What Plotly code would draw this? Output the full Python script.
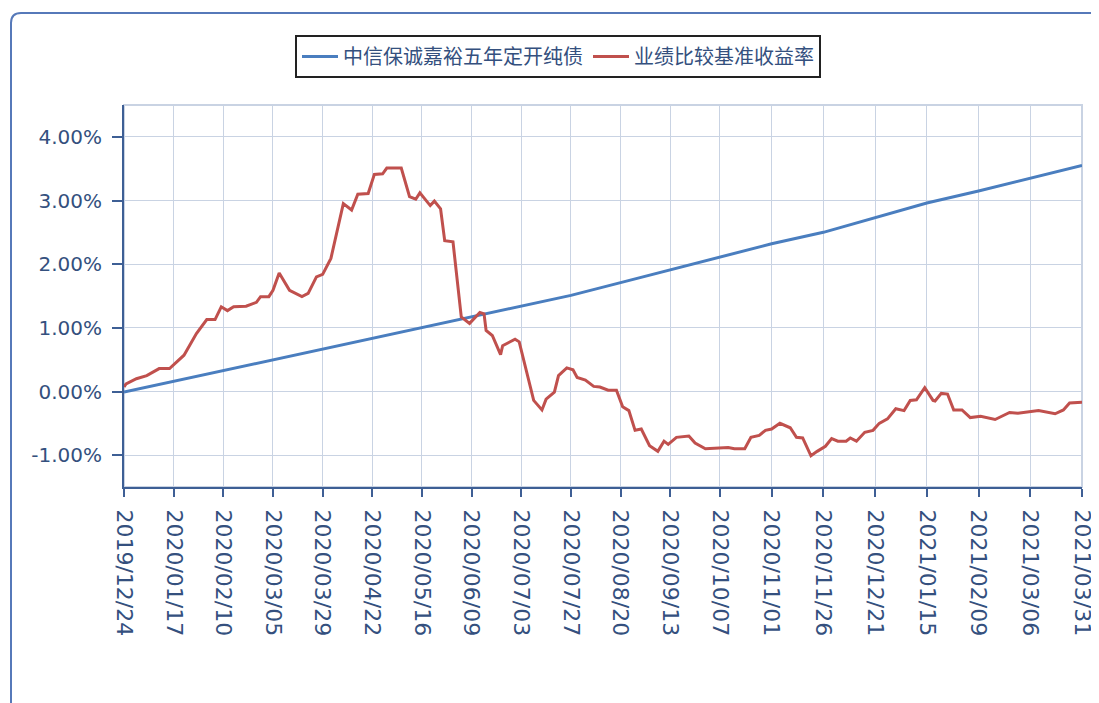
import plotly.graph_objects as go

# ---------------- data ----------------
tick_dates = ["2019-12-24", "2020-01-17", "2020-02-10", "2020-03-05", "2020-03-29",
              "2020-04-22", "2020-05-16", "2020-06-09", "2020-07-03", "2020-07-27",
              "2020-08-20", "2020-09-13", "2020-10-07", "2020-11-01", "2020-11-26",
              "2020-12-21", "2021-01-15", "2021-02-09", "2021-03-06", "2021-03-31"]

fund_name = "中信保诚嘉裕五年定开纯债"
fund_dates = tick_dates
fund_values = [-0.01, 0.16, 0.33, 0.50, 0.67, 0.84, 1.00, 1.17, 1.34, 1.51,
               1.71, 1.91, 2.11, 2.32, 2.50, 2.73, 2.96, 3.15, 3.35, 3.55]

bench_name = "业绩比较基准收益率"
bench_dates = [
    "2019-12-24", "2019-12-25", "2019-12-30", "2020-01-04", "2020-01-10", "2020-01-15",
    "2020-01-22", "2020-01-28", "2020-02-02", "2020-02-06", "2020-02-09", "2020-02-12",
    "2020-02-15", "2020-02-21", "2020-02-26", "2020-02-28", "2020-03-03", "2020-03-05",
    "2020-03-08", "2020-03-13", "2020-03-19", "2020-03-22", "2020-03-26", "2020-03-29",
    "2020-04-02", "2020-04-08", "2020-04-12", "2020-04-15", "2020-04-20", "2020-04-23",
    "2020-04-27", "2020-04-29", "2020-05-06", "2020-05-10", "2020-05-13", "2020-05-15",
    "2020-05-20", "2020-05-22", "2020-05-25", "2020-05-27", "2020-05-31", "2020-06-02",
    "2020-06-04", "2020-06-08", "2020-06-13", "2020-06-15", "2020-06-16", "2020-06-19",
    "2020-06-23", "2020-06-24", "2020-06-30", "2020-07-02", "2020-07-09", "2020-07-13",
    "2020-07-15", "2020-07-19", "2020-07-21", "2020-07-25", "2020-07-28", "2020-07-30",
    "2020-08-03", "2020-08-07", "2020-08-10", "2020-08-14", "2020-08-18", "2020-08-21",
    "2020-08-24", "2020-08-27", "2020-08-30", "2020-09-03", "2020-09-07", "2020-09-10",
    "2020-09-12", "2020-09-16", "2020-09-22", "2020-09-25", "2020-09-30", "2020-10-11",
    "2020-10-14", "2020-10-19", "2020-10-22", "2020-10-26", "2020-10-29", "2020-11-01",
    "2020-11-05", "2020-11-10", "2020-11-13", "2020-11-16", "2020-11-20", "2020-11-23",
    "2020-11-27", "2020-11-30", "2020-12-03", "2020-12-07", "2020-12-09", "2020-12-12",
    "2020-12-16", "2020-12-20", "2020-12-23", "2020-12-27", "2020-12-31", "2021-01-04",
    "2021-01-07", "2021-01-10", "2021-01-14", "2021-01-18", "2021-01-19", "2021-01-22",
    "2021-01-25", "2021-01-28", "2021-02-01", "2021-02-05", "2021-02-10", "2021-02-17",
    "2021-02-24", "2021-02-28", "2021-03-06", "2021-03-10", "2021-03-18", "2021-03-22",
    "2021-03-25", "2021-03-31"]
bench_values = [
    0.07, 0.12, 0.20, 0.25, 0.36, 0.36,
    0.57, 0.91, 1.13, 1.13, 1.33, 1.27,
    1.33, 1.34, 1.40, 1.49, 1.49, 1.59,
    1.86, 1.59, 1.49, 1.54, 1.80, 1.84,
    2.09, 2.95, 2.85, 3.10, 3.11, 3.41,
    3.42, 3.51, 3.51, 3.06, 3.02, 3.12,
    2.92, 2.99, 2.87, 2.37, 2.35, 1.80,
    1.17, 1.07, 1.24, 1.22, 0.96, 0.88,
    0.58, 0.72, 0.82, 0.78, -0.14, -0.29,
    -0.12, -0.01, 0.25, 0.37, 0.34, 0.22,
    0.18, 0.08, 0.07, 0.02, 0.02, -0.24,
    -0.30, -0.61, -0.59, -0.85, -0.94, -0.78,
    -0.83, -0.72, -0.70, -0.81, -0.90, -0.88,
    -0.90, -0.90, -0.72, -0.69, -0.61, -0.59,
    -0.50, -0.57, -0.72, -0.73, -1.01, -0.94,
    -0.86, -0.74, -0.78, -0.78, -0.73, -0.78,
    -0.64, -0.61, -0.50, -0.43, -0.27, -0.30,
    -0.14, -0.13, 0.06, -0.14, -0.15, -0.03,
    -0.04, -0.29, -0.29, -0.41, -0.39, -0.44,
    -0.33, -0.34, -0.31, -0.30, -0.35, -0.29,
    -0.18, -0.17]

y_ticks = [-1, 0, 1, 2, 3, 4]
y_tick_labels = ["-1.00%", "0.00%", "1.00%", "2.00%", "3.00%", "4.00%"]

# ---------------- style ----------------
BLUE = "#4a7ebf"
RED = "#c0504d"
TEXT = "#34507e"
AXIS = "#3e5f95"
GRID = "#c9d3e3"
FONT = "DejaVu Sans, Noto Sans CJK SC, sans-serif"

# page has an 8px body margin; figure coordinates = screen - 8
OFF = 8
W, H = 1099 - OFF, 703 - OFF
ML, MT = 124 - OFF, 105 - OFF
MR = W - (1082 - OFF)
MB = H - (487 - OFF)
PW, PH = W - ML - MR, H - MT - MB


def px_x(px):
    """screen x pixel -> paper fraction"""
    return (px - OFF - ML) / PW


def px_y(py):
    """screen y pixel -> paper fraction"""
    return (H - MB - (py - OFF)) / PH


fig = go.Figure()
fig.add_trace(go.Scatter(x=fund_dates, y=fund_values, mode="lines", name=fund_name,
                         line=dict(color=BLUE, width=3)))
fig.add_trace(go.Scatter(x=bench_dates, y=bench_values, mode="lines", name=bench_name,
                         line=dict(color=RED, width=3)))

xl, xr = px_x(11), px_x(1099)
yt, yb = px_y(13), px_y(703)
rx, ry = 10 / PW, 10 / PH
card_path = f"M {xl},{yb} L {xl},{yt - ry} Q {xl},{yt} {xl + rx},{yt} L {xr},{yt}"

fig.update_layout(
    width=W, height=H,
    margin=dict(l=ML, r=MR, t=MT, b=MB, autoexpand=False),
    paper_bgcolor="white", plot_bgcolor="white",
    font=dict(family=FONT, color=TEXT),
    showlegend=True,
    legend=dict(orientation="h", x=px_x(558), xanchor="center", y=px_y(35), yanchor="top",
                bordercolor="#222222", borderwidth=2, bgcolor="white",
                font=dict(family="Noto Sans CJK SC, sans-serif", size=20, color=TEXT),
                itemwidth=36, tracegroupgap=0),
    shapes=[
        dict(type="path", xref="paper", yref="paper", path=card_path,
             line=dict(color="#5679b9", width=2), layer="above"),
        dict(type="rect", xref="paper", yref="paper", x0=0, x1=1, y0=0, y1=1,
             line=dict(color=GRID, width=2), layer="below"),
    ],
)

fig.update_xaxes(
    type="date", range=[tick_dates[0], tick_dates[-1]],
    tickmode="array", tickvals=tick_dates, tickformat="%Y/%m/%d",
    tickangle=90, tickfont=dict(size=22, color=TEXT, family=FONT),
    showgrid=True, gridcolor=GRID, gridwidth=1,
    showline=True, linecolor=AXIS, linewidth=2,
    ticks="outside", ticklen=8, tickwidth=2, tickcolor=AXIS,
    zeroline=False, ticklabelstandoff=8, automargin=False,
)
fig.update_yaxes(
    range=[-1.5, 4.5], tickmode="array", tickvals=y_ticks, ticktext=y_tick_labels,
    tickfont=dict(size=20, color=TEXT, family=FONT),
    showgrid=True, gridcolor=GRID, gridwidth=1,
    showline=True, linecolor=AXIS, linewidth=2,
    ticks="outside", ticklen=10, tickwidth=2, tickcolor=AXIS,
    zeroline=False, ticklabelstandoff=6, automargin=False,
)

fig.write_html("out.html")
